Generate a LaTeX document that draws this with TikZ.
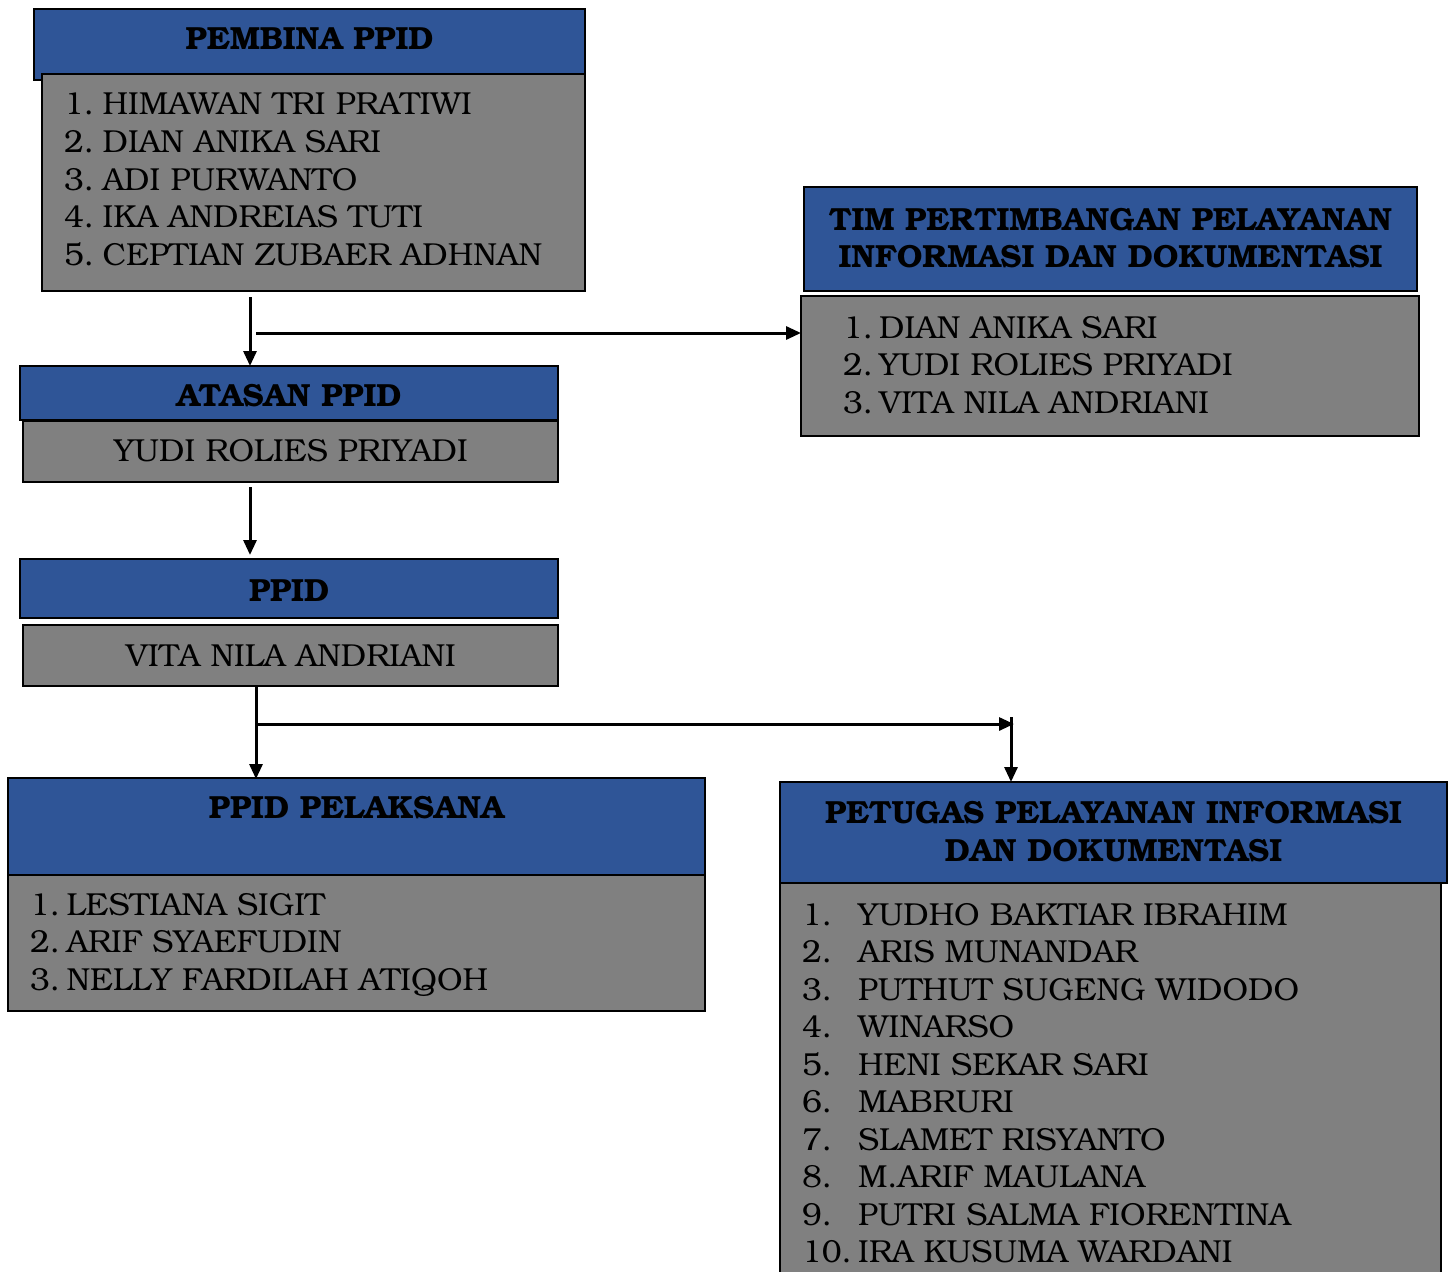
\documentclass[tikz,border=0pt]{standalone}
\usepackage[T1]{fontenc}
\usepackage{bookman}
\usetikzlibrary{arrows.meta}
\definecolor{hdrblue}{RGB}{47,85,151}
\definecolor{bodygray}{RGB}{128,128,128}
\begin{document}
\begin{tikzpicture}[x=1pt,y=1pt,
  hdr/.style={draw=black, line width=2pt, fill=hdrblue},
  bod/.style={draw=black, line width=2pt, fill=bodygray},
  ttl/.style={font=\fontsize{32}{38}\selectfont\bfseries, anchor=base, inner sep=0pt, text=black},
  item/.style={font=\fontsize{31.8}{38}\selectfont, anchor=base west, inner sep=0pt, text=black},
  arr/.style={line width=3pt, -{Triangle[length=15pt,width=13pt]}}]
\useasboundingbox (0,0) rectangle (1455,-1271);
% PEMBINA PPID
\path[hdr] (34,-9) rectangle (585,-80);
\node[ttl] (pemT) at (309.5,-50) {PEMBINA PPID};
\path[bod] (42,-74) rectangle (585,-291);
\foreach \t [count=\i] in {HIMAWAN TRI PRATIWI, DIAN ANIKA SARI, ADI PURWANTO, IKA ANDREIAS TUTI, CEPTIAN ZUBAER ADHNAN}
  \node[item] (pem\i) at (64,{-115-37.5*(\i-1)}) {\i.\hspace{8.5pt}\t};
% TIM
\path[hdr] (804,-187) rectangle (1417,-291);
\node[ttl] (timT1) at (1110.5,-230) {TIM PERTIMBANGAN PELAYANAN};
\node[ttl] (timT2) at (1110.5,-267) {INFORMASI DAN DOKUMENTASI};
\path[bod] (801,-296) rectangle (1419,-436);
\coordinate (timW) at (801,-366);
\foreach \t [count=\i] in {DIAN ANIKA SARI, YUDI ROLIES PRIYADI, VITA NILA ANDRIANI}
  \node[item] (tim\i) at (843,{-338-37.5*(\i-1)}) {\i.\hspace{6pt}\t};
% ATASAN
\path[hdr] (20,-366) rectangle (558,-420);
\node[ttl] (atasT) at (289,-406.5) {ATASAN PPID};
\path[bod] (23,-421) rectangle (558,-482);
\node[item, anchor=base] (atasN) at (291,-461) {YUDI ROLIES PRIYADI};
% PPID
\path[hdr] (20,-559) rectangle (558,-618);
\node[ttl] (ppidT) at (289,-601) {PPID};
\path[bod] (23,-625) rectangle (558,-686);
\node[item, anchor=base] (ppidN) at (291,-666) {VITA NILA ANDRIANI};
% PPID PELAKSANA
\path[hdr] (8,-778) rectangle (705,-875);
\node[ttl] (pelT) at (356.5,-818) {PPID PELAKSANA};
\path[bod] (8,-875) rectangle (705,-1011);
\foreach \t [count=\i] in {LESTIANA SIGIT, ARIF SYAEFUDIN, NELLY FARDILAH ATIQOH}
  \node[item] (pel\i) at (30,{-915-37.5*(\i-1)}) {\i.\hspace{6.5pt}\t};
% PETUGAS
\path[hdr] (780,-782) rectangle (1447,-883);
\node[ttl] (petT1) at (1113.5,-823) {PETUGAS PELAYANAN INFORMASI};
\node[ttl] (petT2) at (1113.5,-861) {DAN DOKUMENTASI};
\path[bod] (780,-883) rectangle (1441,-1300);
\foreach \t [count=\i] in {YUDHO BAKTIAR IBRAHIM, ARIS MUNANDAR, PUTHUT SUGENG WIDODO, WINARSO, HENI SEKAR SARI, MABRURI, SLAMET RISYANTO, M.ARIF MAULANA, PUTRI SALMA FIORENTINA, IRA KUSUMA WARDANI}
  \node[item] (pet\i) at (802,{-925-37.5*(\i-1)}) {\makebox[56pt][l]{\i.}\t};
% connectors
\coordinate (c1) at (250,-297);
\coordinate (c1e) at (250,-366);
\draw[arr] (c1) -- (c1e);
\coordinate (c2) at (256,-333);
\draw[arr] (c2) -- (c2 -| timW);
\coordinate (c3) at (250,-487);
\coordinate (c3e) at (250,-555);
\draw[arr] (c3) -- (c3e);
\coordinate (c4) at (256,-686);
\coordinate (c4e) at (256,-779);
\draw[arr] (c4) -- (c4e);
\coordinate (c5) at (258,-724);
\coordinate (c5e) at (1014,-724);
\draw[arr] (c5) -- (c5e);
\coordinate (c6) at (1011,-717);
\coordinate (c6e) at (1011,-782);
\draw[arr] (c6) -- (c6e);
\end{tikzpicture}
\end{document}
